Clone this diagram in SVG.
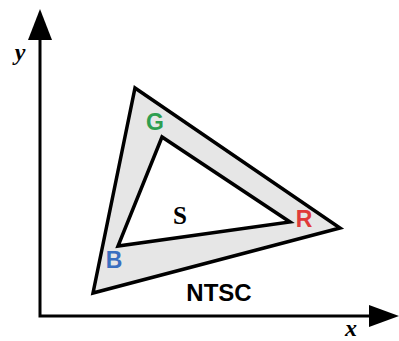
<svg xmlns="http://www.w3.org/2000/svg" width="399" height="341" viewBox="0 0 399 341">
<style>
.ax{stroke:#000;stroke-width:3;fill:none}
.lbl{font-family:"Liberation Sans",Arial,sans-serif;font-weight:bold;text-anchor:middle}
.ser{font-family:"Liberation Serif","Times New Roman",serif;font-weight:bold;text-anchor:middle;fill:#000}
.axl{font-family:"Liberation Serif","Times New Roman",serif;font-weight:bold;font-style:italic;text-anchor:middle;fill:#000}
</style>
<rect width="399" height="341" fill="#fff"/>
<g id="connectors">
<path class="ax" d="M40,38 V316 H372"/>
<polygon points="40,9 52,40 28,40" fill="#000"/>
<polygon points="399,316 369,305 369,327" fill="#000"/>
</g>
<g id="ntsc">
<path d="M135,88 L340,228 L93,293 Z M162,137 L118,246 L290,222 Z" fill="#e6e6e6" fill-rule="evenodd" stroke="#000" stroke-width="3.5" stroke-linejoin="miter"/>
<text class="lbl" x="219" y="301" font-size="24" fill="#000">NTSC</text>
</g>
<g id="s">
<text class="ser" x="180" y="224" font-size="25">S</text>
</g>
<g id="g"><text class="lbl" x="155" y="130" font-size="23" fill="#2e9e50">G</text></g>
<g id="r"><text class="lbl" x="304" y="227" font-size="23" fill="#e03a3a">R</text></g>
<g id="b"><text class="lbl" x="114" y="268" font-size="23" fill="#3a6fc0">B</text></g>
<g id="ylabel"><text class="axl" x="20" y="60" font-size="24">y</text></g>
<g id="xlabel"><text class="axl" x="351" y="336" font-size="24">x</text></g>
</svg>
